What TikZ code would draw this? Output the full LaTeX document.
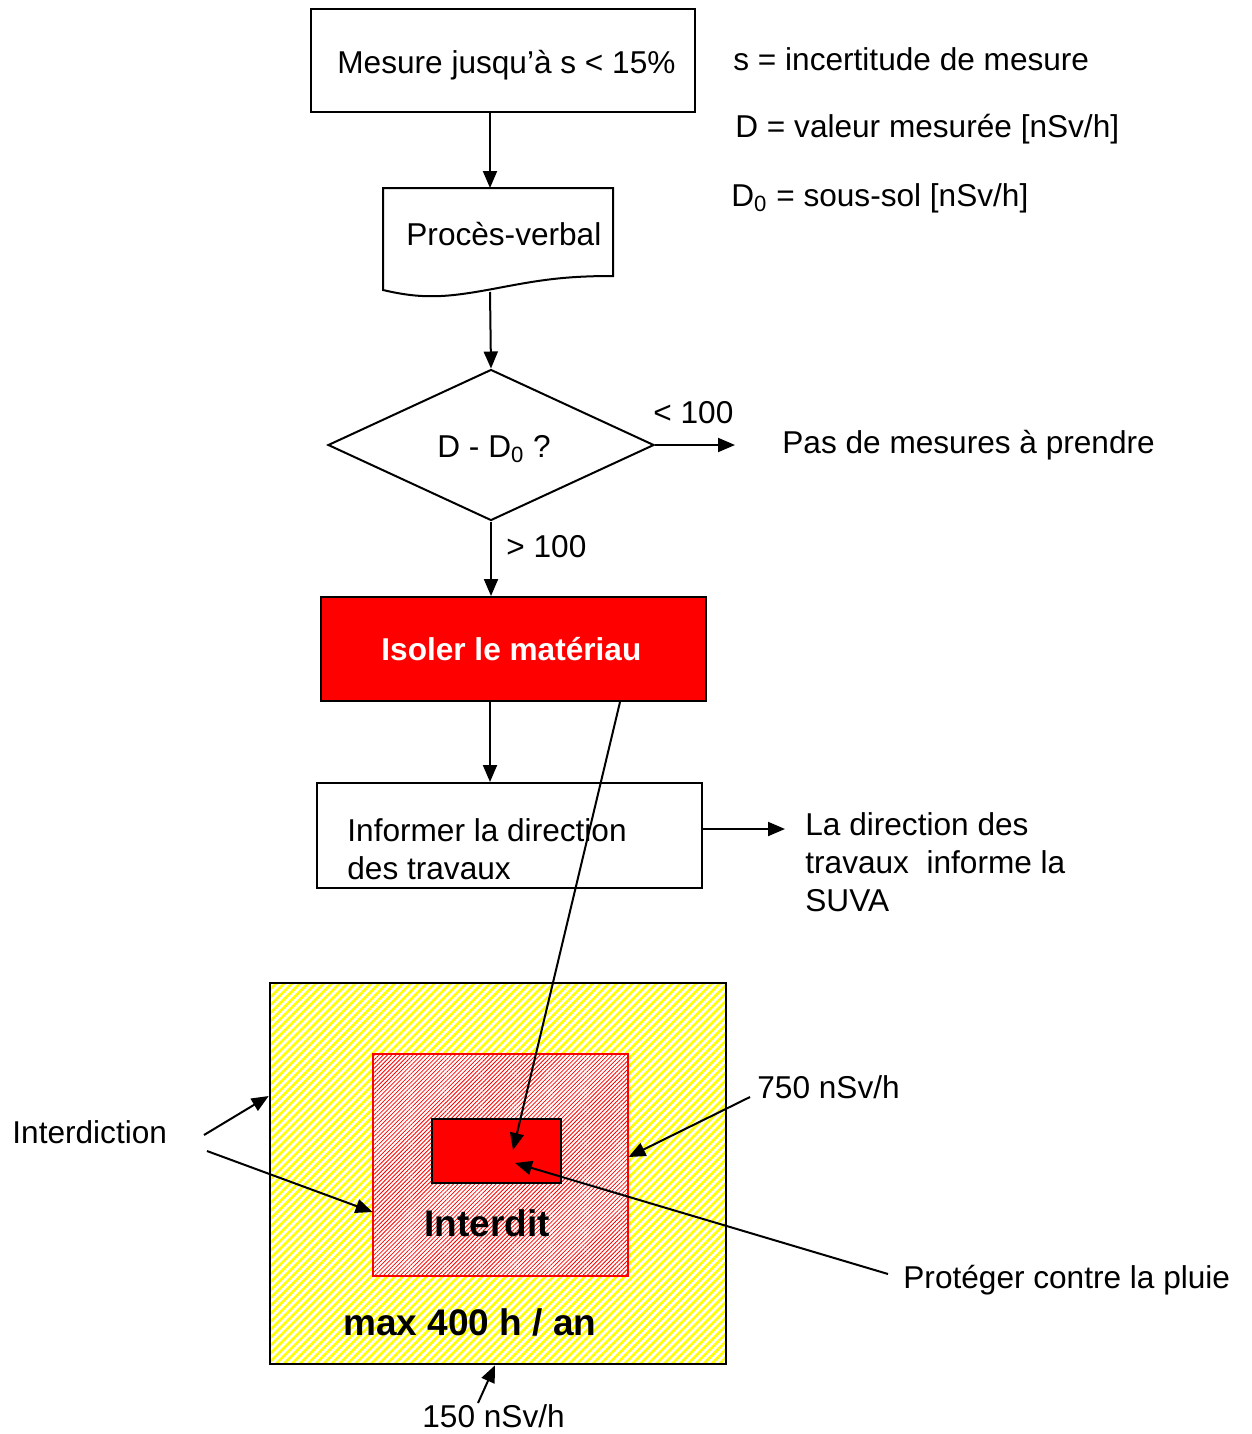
\documentclass[tikz,border=0pt]{standalone}
\usepackage{fontspec}
\setmainfont{Liberation Sans}
\usetikzlibrary{arrows.meta,shapes.geometric,patterns.meta}
\begin{document}
\begin{tikzpicture}[x=0.5pt,y=-0.5pt,
  every node/.style={font=\fontsize{15.8}{19}\selectfont, inner sep=0pt},
  arr/.style={-{Triangle[length=8.5pt,width=7pt]}, line width=1pt},
  lbl/.style={anchor=base west},
  frame/.style={draw, line width=1pt},
  big/.style={font=\fontsize{18.5}{22}\selectfont\bfseries}]
\useasboundingbox (0,0) rectangle (1252,1434);

% ---- hatched zones (drawn first) ----
\node[frame, minimum width=228pt, minimum height=190.5pt,
      preaction={fill=white},
      pattern={Lines[angle=45,distance=2.8pt,line width=1.3pt]}, pattern color=yellow] (outer) at (498,1173.5) {};
\node[draw=red, line width=1pt, minimum width=127.5pt, minimum height=111pt,
      preaction={fill=white},
      pattern={Lines[angle=45,distance=1.5pt,line width=0.4pt]}, pattern color=red] (mid) at (500.5,1165) {};
\node[frame, fill=red, minimum width=64.5pt, minimum height=32pt] (core) at (496.5,1151) {};
\node[big] (interdit) at (487,1223) {Interdit};
\node[big] (maxh) at (470,1322) {max 400 h / an};

% ---- flowchart ----
\node[frame, minimum width=192pt, minimum height=51.5pt] (m) at (503,60.5) {};
\node[lbl] (mt) at (337,74) {Mesure jusqu’à s < 15\%};

\draw[line width=1pt] (383,188) -- (613,188) -- (613,276)
   .. controls (565,276) and (540,280) .. (498,288)
   .. controls (450,297) and (425,300) .. (383,290) -- cycle;
\node[lbl] (pv) at (406,245) {Procès-verbal};
\coordinate (pvN) at (490,188);
\coordinate (pvS) at (490,292);

\node[frame, diamond, minimum width=163pt, minimum height=75.5pt, aspect=2.16] (dec) at (491,445) {};
\node[lbl] (dect) at (437,457) {D - D\textsubscript{0} ?};

\node[frame, fill=red, minimum width=192.5pt, minimum height=52pt] (iso) at (513.5,649) {};
\node[text=white, font=\fontsize{15.8}{19}\selectfont\bfseries, lbl] (isot) at (381,660) {Isoler le matériau};

\node[frame, minimum width=192.5pt, minimum height=52.5pt] (info) at (509.5,835.5) {};
\node[anchor=west, align=left] (infot) at (347,849) {Informer la direction\\des travaux};

% ---- legend texts ----
\node[lbl] (ls) at (733,71) {s = incertitude de mesure};
\node[lbl] (ld) at (735,138) {D = valeur mesurée [nSv/h]};
\node[lbl] (ld0) at (731,206) {D\textsubscript{0} = sous-sol [nSv/h]};

\node[lbl] (lt) at (653,423) {< 100};
\node[lbl] (pas) at (782,453) {Pas de mesures à prendre};
\node[lbl] (gt) at (506,557) {> 100};
\node[anchor=west, align=left] (dir) at (805,862) {La direction des\\travaux\ \ informe la\\SUVA};

\node[lbl] (intd) at (12,1143) {Interdiction};
\node[lbl] (n750) at (757,1098) {750 nSv/h};
\node[lbl] (prot) at (903,1288) {Protéger contre la pluie};
\node[lbl] (n150) at (422,1427) {150 nSv/h};

% ---- connectors ----
\coordinate (pasA) at (735,445);
\coordinate (dirA) at (785,829);
\coordinate (coreA) at (513,1150);
\coordinate (coreB) at (515,1163);
\coordinate (intA) at (204,1135);
\coordinate (intB) at (207,1151);
\coordinate (a750) at (750,1097);
\coordinate (aprot) at (888,1274);
\coordinate (a150) at (478,1403);

\draw[arr] (490,0 |- m.south) -- (pvN);
\draw[arr] (pvS) -- (dec.north);
\draw[arr] (dec.east) -- (pasA);
\draw[arr] (dec.south) -- (dec.south |- iso.north);
\draw[arr] (490,0 |- iso.south) -- (490,0 |- info.north);
\draw[arr] (info.east |- dirA) -- (dirA);
\draw[arr] (620,0 |- iso.south) -- (coreA);
\draw[arr] (intA) -- (outer.west |- 0,1096);
\draw[arr] (intB) -- (mid.west |- 0,1212);
\draw[arr] (a750) -- (mid.east |- 0,1157);
\draw[arr] (aprot) -- (coreB);
\draw[arr] (a150) -- (495,0 |- outer.south);
\end{tikzpicture}
\end{document}
